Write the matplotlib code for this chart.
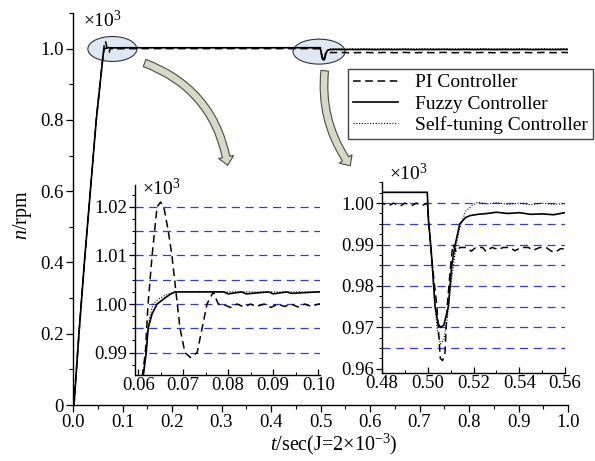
import numpy as np
import matplotlib
matplotlib.use('Agg')
import matplotlib.pyplot as plt
from matplotlib.patches import Ellipse, FancyArrowPatch
from matplotlib.ticker import MultipleLocator

plt.rcParams['font.family'] = 'serif'
plt.rcParams['font.serif'] = ['Liberation Serif', 'DejaVu Serif']
plt.rcParams['mathtext.fontset'] = 'custom'
plt.rcParams['mathtext.rm'] = 'Liberation Serif'
plt.rcParams['mathtext.it'] = 'Liberation Serif:italic'

# speed curves (x10^3 rpm)
pi_t = [0.000, 0.002, 0.012, 0.023, 0.035, 0.047, 0.0609, 0.0616, 0.0622, 0.0631, 0.0642, 0.0650,
        0.0658, 0.0667, 0.0675, 0.0687, 0.0693, 0.0704, 0.0716, 0.0731, 0.0742, 0.0753, 0.0767, 0.0778,
        0.0795, 0.0805, 0.0820, 0.0835, 0.0850, 0.0862, 0.0880, 0.0895, 0.0910, 0.0925, 0.0940, 0.0955,
        0.0970, 0.0985, 0.1000,
        0.2000, 0.3000, 0.4000, 0.4800, 0.4830, 0.4850, 0.4880, 0.4900, 0.4930, 0.4950, 0.4975, 0.4998,
        0.5005, 0.5020, 0.5040, 0.5055, 0.5065, 0.5075, 0.5085, 0.5100, 0.5110, 0.5125, 0.5140, 0.5170,
        0.5190, 0.5210, 0.5240, 0.5255, 0.5280, 0.5310, 0.5330, 0.5360, 0.5380, 0.5410, 0.5440, 0.5460,
        0.5490, 0.5520, 0.5540, 0.5560, 0.5580, 0.5600]
pi_v = [0.000, 0.000, 0.200, 0.400, 0.600, 0.800, 0.985, 0.990, 1.000, 1.010, 1.020, 1.021,
        1.0195, 1.015, 1.010, 1.000, 0.995, 0.990, 0.989, 0.990, 0.995, 1.000, 1.0025, 1.000,
        0.9997, 0.9993, 1.0000, 0.9994, 1.0000, 0.9995, 1.0000, 0.9993, 1.0000, 0.9995, 1.0000, 0.9994,
        1.0000, 0.9995, 1.0000,
        1.0000, 1.0000, 1.0000, 1.0000, 0.9994, 1.0000, 0.9993, 1.0000, 0.9994, 1.0000, 0.9994, 1.0000,
        0.9950, 0.9850, 0.9750, 0.9625, 0.9620, 0.9635, 0.9750, 0.9850, 0.9900, 0.9882, 0.9893, 0.9893,
        0.9884, 0.9893, 0.9893, 0.9883, 0.9893, 0.9888, 0.9893, 0.9893, 0.9885, 0.9893, 0.9893, 0.9886,
        0.9893, 0.9892, 0.9884, 0.9882, 0.9890, 0.9890]

fz_t = [0.000, 0.002, 0.012, 0.023, 0.035, 0.047, 0.0611, 0.0618, 0.0622, 0.0631, 0.0642, 0.0656,
        0.0671, 0.0682, 0.0720, 0.0760, 0.0790, 0.0800, 0.0830, 0.0840, 0.0890, 0.0900, 0.0930, 0.0940,
        0.1000, 0.2000, 0.3000, 0.4000, 0.4800, 0.4998, 0.5003, 0.5008, 0.5020, 0.5032, 0.5045, 0.5055,
        0.5070, 0.5090, 0.5105, 0.5120, 0.5140, 0.5165, 0.5185, 0.5220, 0.5260, 0.5300, 0.5350, 0.5400,
        0.5450, 0.5500, 0.5550, 0.5600]
fz_v = [0.000, 0.000, 0.200, 0.400, 0.600, 0.800, 0.985, 0.990, 0.995, 0.998, 1.000, 1.001,
        1.002, 1.0025, 1.0025, 1.0025, 1.0025, 1.0021, 1.0025, 1.0021, 1.0025, 1.0021, 1.0025, 1.0022,
        1.0025, 1.0025, 1.0025, 1.0025, 1.0026, 1.0026, 0.9960, 0.9930, 0.9850, 0.9750, 0.9710, 0.9700,
        0.9705, 0.9750, 0.9850, 0.9900, 0.9950, 0.9965, 0.9970, 0.9973, 0.9975, 0.9978, 0.9975, 0.9977,
        0.9973, 0.9974, 0.9972, 0.9977]

st_t = [0.000, 0.002, 0.012, 0.023, 0.035, 0.047, 0.0611, 0.0618, 0.0625, 0.0633, 0.0645, 0.0660,
        0.0680, 0.1000, 0.2000, 0.3000, 0.4000, 0.4800, 0.4998, 0.5003, 0.5010, 0.5025, 0.5040, 0.5055,
        0.5070, 0.5085, 0.5100, 0.5125, 0.5140, 0.5165, 0.5195, 0.5220, 0.5260, 0.5300, 0.5350, 0.5400,
        0.5450, 0.5500, 0.5550, 0.5600]
st_v = [0.000, 0.000, 0.200, 0.400, 0.600, 0.800, 0.985, 0.991, 0.997, 1.000, 1.001, 1.0018,
        1.0025, 1.0025, 1.0025, 1.0025, 1.0025, 1.0026, 1.0026, 0.9950, 0.9920, 0.9800, 0.9700, 0.9660,
        0.9670, 0.9720, 0.9800, 0.9900, 0.9940, 0.9980, 0.9995, 1.0002, 0.9998, 1.0001, 0.9997, 1.0000,
        0.9996, 1.0000, 0.9997, 0.9999]

# settled part after the load step, up to 1 s
tail_t = [0.57, 0.59, 0.61, 0.63, 0.65, 0.67, 0.69, 0.71, 0.73, 0.75, 0.77, 0.79,
          0.81, 0.83, 0.85, 0.87, 0.89, 0.91, 0.93, 0.95, 0.97, 0.99, 1.00]
pi_tail = [0.9886, 0.9893, 0.9885, 0.9893, 0.9887, 0.9894, 0.9885, 0.9893, 0.9886, 0.9894, 0.9885, 0.9893,
           0.9887, 0.9893, 0.9885, 0.9894, 0.9886, 0.9893, 0.9885, 0.9893, 0.9887, 0.9893, 0.9890]
fz_tail = [0.9973, 0.9977, 0.9972, 0.9976, 0.9973, 0.9977, 0.9972, 0.9976, 0.9974, 0.9977, 0.9972, 0.9976,
           0.9973, 0.9977, 0.9972, 0.9976, 0.9973, 0.9977, 0.9972, 0.9976, 0.9973, 0.9977, 0.9975]
st_tail = [0.9996, 1.0001, 0.9995, 1.0000, 0.9996, 1.0001, 0.9995, 1.0000, 0.9996, 1.0001, 0.9995, 1.0000,
           0.9996, 1.0001, 0.9995, 1.0000, 0.9996, 1.0001, 0.9995, 1.0000, 0.9996, 1.0001, 0.9998]

labels = ['PI Controller', 'Fuzzy Controller', 'Self-tuning Controller']

series = [
    (np.r_[pi_t, tail_t], np.r_[pi_v, pi_tail], dict(color='black', ls=(0, (5, 3)), lw=1.1)),
    (np.r_[fz_t, tail_t], np.r_[fz_v, fz_tail], dict(color='black', ls='-', lw=1.2)),
    (np.r_[st_t, tail_t], np.r_[st_v, st_tail], dict(color='black', ls=(0, (1, 1.5)), lw=0.8)),
]

W, H = 595, 461
TICK_FS = 13.5


def box(x0, y0, x1, y1):
    return [x0 / W, 1 - y1 / H, (x1 - x0) / W, (y1 - y0) / H]


fig = plt.figure(figsize=(W / 100, H / 100), dpi=100)
ax = fig.add_axes(box(73, 13, 568, 405))
in1 = fig.add_axes(box(135, 185, 320, 375))
in2 = fig.add_axes(box(382, 182, 565, 373))

for a in (ax, in1, in2):
    a.set_facecolor('none')
    a.spines['top'].set_visible(False)
    a.spines['right'].set_visible(False)
    for s in ('left', 'bottom'):
        a.spines[s].set_linewidth(1.0)
    a.tick_params(labelsize=TICK_FS, width=0.9, pad=1.5)

lines = []
for t, v, st in series:
    ln, = ax.plot(t, v, zorder=3, **st)
    lines.append(ln)
    in1.plot(t, v, zorder=3, **st)
    in2.plot(t, v, zorder=3, **st)

# main axes
ax.set_xlim(0, 1.0)
ax.set_ylim(0, 1.1)
ax.set_xticks([0.0, 0.1, 0.2, 0.3, 0.4, 0.5, 0.6, 0.7, 0.8, 0.9, 1.0])
ax.set_xticklabels(['0.0', '0.1', '0.2', '0.3', '0.4', '0.5', '0.6', '0.7', '0.8', '0.9', '1.0'])
ax.set_yticks([0, 0.2, 0.4, 0.6, 0.8, 1.0])
ax.set_yticklabels(['0', '0.2', '0.4', '0.6', '0.8', '1.0'])
ax.xaxis.set_minor_locator(MultipleLocator(0.05))
ax.yaxis.set_minor_locator(MultipleLocator(0.1))
ax.tick_params(which='major', direction='out', length=5)
ax.tick_params(which='minor', direction='out', length=3, width=0.8)

# zoom ellipses
ax.add_patch(Ellipse((0.0795, 0.999), 0.099, 0.070, facecolor='#dfe7f3',
                     edgecolor='#2f3340', lw=0.8, zorder=1))
ax.add_patch(Ellipse((0.497, 0.9916), 0.105, 0.070, facecolor='#dfe7f3',
                     edgecolor='#2f3340', lw=0.8, zorder=1))

# insets
blue = '#3535f2'
grid1 = [0.99, 0.995, 1.00, 1.005, 1.01, 1.015, 1.02]
grid2 = [0.965, 0.97, 0.975, 0.98, 0.985, 0.99, 0.995, 1.00]
for a, g in ((in1, grid1), (in2, grid2)):
    for y in g:
        a.axhline(y, color=blue, lw=0.9, ls=(0, (6.5, 4.5)), zorder=1)

in1.set_xlim(0.0593, 0.1004)
in1.set_ylim(0.9854, 1.0245)
in1.set_xticks([0.06, 0.07, 0.08, 0.09, 0.10])
in1.set_xticklabels(['0.06', '0.07', '0.08', '0.09', '0.10'])
in1.set_yticks([0.99, 1.00, 1.01, 1.02])
in1.set_yticklabels(['0.99', '1.00', '1.01', '1.02'])
in1.xaxis.set_minor_locator(MultipleLocator(0.005))
in1.yaxis.set_minor_locator(MultipleLocator(0.0025))

in2.set_xlim(0.48, 0.56)
in2.set_ylim(0.959, 1.0051)
in2.set_xticks([0.48, 0.50, 0.52, 0.54, 0.56])
in2.set_xticklabels(['0.48', '0.50', '0.52', '0.54', '0.56'])
in2.set_yticks([0.96, 0.97, 0.98, 0.99, 1.00])
in2.set_yticklabels(['0.96', '0.97', '0.98', '0.99', '1.00'])
in2.xaxis.set_minor_locator(MultipleLocator(0.01))
in2.yaxis.set_minor_locator(MultipleLocator(0.0025))

for a in (in1, in2):
    a.tick_params(axis='y', which='major', direction='out', length=4)
    a.tick_params(axis='y', which='minor', direction='out', length=2.5, width=0.7)
    a.tick_params(axis='x', which='major', direction='in', length=4)
    a.tick_params(axis='x', which='minor', direction='in', length=2.5, width=0.7)

for a in (ax, in1, in2):
    for lab in a.get_xticklabels() + a.get_yticklabels():
        lab.set_fontfamily('Liberation Serif')

# curved arrows
arrow_kw = dict(arrowstyle='simple,tail_width=5.5,head_width=11,head_length=6',
                facecolor='#d8d9c4', edgecolor='#4a4a4a', lw=0.8,
                transform=fig.transFigure, zorder=5)
fig.add_artist(FancyArrowPatch((142 / W, 1 - 62 / H), (228 / W, 1 - 168 / H),
                               connectionstyle='arc3,rad=-0.3', **arrow_kw))
fig.add_artist(FancyArrowPatch((325 / W, 1 - 68 / H), (352 / W, 1 - 168 / H),
                               connectionstyle='arc3,rad=0.2', **arrow_kw))

# texts
fig.text(83 / W, 1 - 20 / H, '×10$^3$', fontsize=14, va='center', ha='left')
fig.text(142 / W, 1 - 188 / H, '×10$^3$', fontsize=14, va='center', ha='left')
fig.text(389 / W, 1 - 173 / H, '×10$^3$', fontsize=14, va='center', ha='left')
fig.text(22 / W, 1 - 215 / H, '$\\it{n}$/rpm', fontsize=14.5, rotation=90,
         va='center', ha='center')
fig.text(334 / W, 1 - 444 / H, '$\\it{t}$/sec(J=2×10$^{-3}$)', fontsize=14.5,
         va='center', ha='center')

leg = ax.legend(lines, labels, loc='upper left', bbox_to_anchor=(348 / W, 1 - 69 / H),
                bbox_transform=fig.transFigure, borderaxespad=0, fontsize=14,
                frameon=True, fancybox=False, framealpha=1, edgecolor='#444444',
                handlelength=2.3, handletextpad=0.9, labelspacing=0.18, borderpad=0.25)
leg.get_frame().set_linewidth(1.0)
leg.set_zorder(6)

fig.savefig('out.png', dpi=100)
